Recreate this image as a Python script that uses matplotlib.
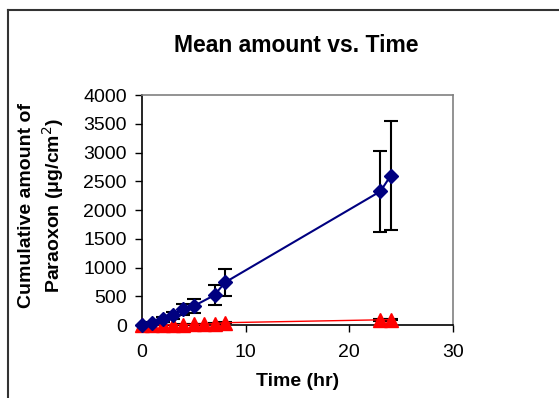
import numpy as np
import matplotlib.pyplot as plt
from matplotlib.lines import Line2D

plt.rcParams['font.family'] = ['Liberation Sans', 'DejaVu Sans']

# blue series (mean cumulative amount)
t_blue = [0, 1, 2, 3, 4, 5, 7, 8, 23, 24]
y_blue = [0, 40, 100, 170, 270, 330, 520, 740, 2325, 2600]
e_blue = [10, 20, 40, 60, 95, 115, 180, 230, 700, 940]

# red series
t_red = [0, 1, 2, 3, 4, 5, 6, 7, 8, 23, 24]
y_red = [0, 2, 4, 6, 8, 10, 15, 25, 40, 90, 95]
e_red = [1, 1, 2, 2, 3, 3, 4, 5, 8, 15, 15]

W, H = 559, 398
fig = plt.figure(figsize=(W / 100, H / 100), dpi=100)
ax = fig.add_axes([142 / W, 1 - 325 / H, 311 / W, 230 / H])

ax.errorbar(t_blue, y_blue, yerr=e_blue, fmt='none', ecolor='black',
            elinewidth=1.5, capsize=5, capthick=1.5, zorder=2)
ax.errorbar(t_red, y_red, yerr=e_red, fmt='none', ecolor='black',
            elinewidth=1.5, capsize=5, capthick=1.5, zorder=2)
ax.plot(t_red, y_red, color='red', lw=1, marker='^', markersize=10,
        markeredgecolor='red', clip_on=False, zorder=3)
ax.plot(t_blue, y_blue, color='#000080', lw=1.5, marker='D', markersize=7,
        markeredgecolor='#000080', clip_on=False, zorder=4)

ax.set_xlim(0, 30)
ax.set_ylim(0, 4000)
ax.set_xticks([0, 10, 20, 30])
ax.set_yticks(np.arange(0, 4001, 500))
ax.tick_params(direction='out', length=5, width=1, labelsize=14)
ax.tick_params(axis='x', pad=9)
ax.tick_params(axis='y', pad=6)
for s in ['left', 'bottom']:
    ax.spines[s].set_color('black')
    ax.spines[s].set_linewidth(1.2)
for s in ['top', 'right']:
    ax.spines[s].set_color('#808080')
    ax.spines[s].set_linewidth(1.2)

ax.set_xlabel('Time (hr)', fontsize=14, fontweight='bold')
ax.xaxis.set_label_coords(0.5, -0.21)
fig.text(42 / W, 1 - 205 / H, 'Cumulative amount of\nParaoxon (\u03bcg/cm$^2$)',
         fontsize=14, fontweight='bold', rotation=90, ha='center', va='center',
         linespacing=1.3)
fig.text(296.5 / W, 1 - 45.5 / H, 'Mean amount vs. Time', fontsize=16.5,
         fontweight='bold', ha='center', va='center')

# outer chart border (top and left edges only)
fig.add_artist(Line2D([8 / W, 1], [1 - 10 / H, 1 - 10 / H], transform=fig.transFigure,
                      color='#333333', lw=1.5))
fig.add_artist(Line2D([8 / W, 8 / W], [0, 1 - 10 / H], transform=fig.transFigure,
                      color='#333333', lw=1.5))

fig.savefig('out.png', dpi=100)
